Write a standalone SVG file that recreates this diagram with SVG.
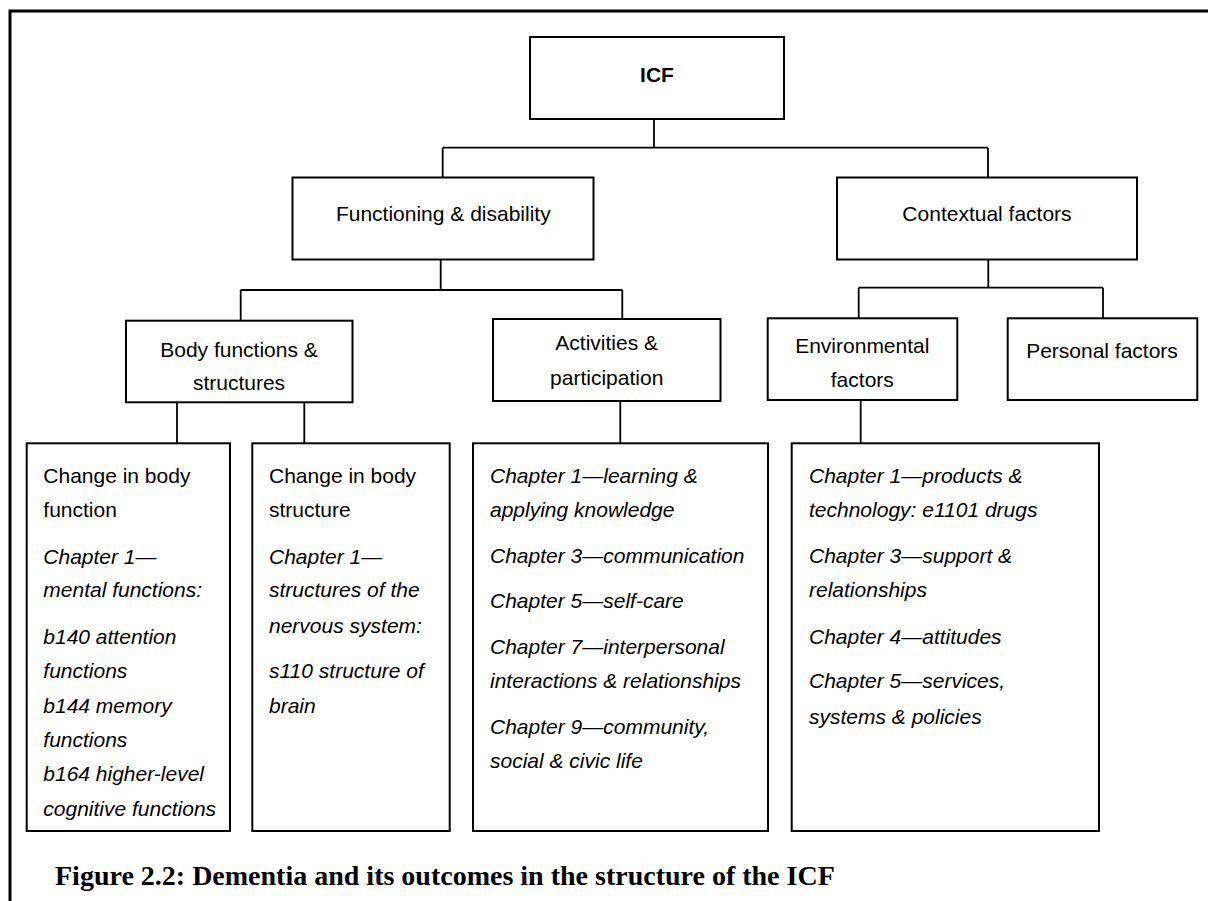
<svg xmlns="http://www.w3.org/2000/svg" width="1208" height="901" viewBox="0 0 1208 901">
<style>
.box{fill:#fff;stroke:#000;stroke-width:2}
.con{fill:none;stroke:#000;stroke-width:1.8}
.frame{fill:none;stroke:#000;stroke-width:3}
text{font-family:"Liberation Sans",Arial,sans-serif;font-size:21px;fill:#000}
.c{text-anchor:middle}
.b{font-weight:bold}
.i{font-style:italic}
.cap{font-family:"Liberation Serif","Times New Roman",serif;font-size:28px;font-weight:bold}
</style>
<rect x="0" y="0" width="1208" height="901" fill="#fff"/>
<path class="frame" d="M10,905 V11 H1212"/>

<g id="connectors">
<path class="con" d="M654,119 V147.7 M442.7,147.7 H988 M442.7,147.7 V177.5 M988,147.7 V177.5"/>
<path class="con" d="M440.7,259.3 V290 M240.7,290 H622.3 M240.7,290 V320.7 M622.3,290 V319"/>
<path class="con" d="M988.3,259.3 V287.7 M858.7,287.7 H1103 M858.7,287.7 V318.3 M1103,287.7 V318.3"/>
<path class="con" d="M177,402.3 V443.3 M304.3,402.3 V443.3 M620.3,401 V443.3 M860.7,400 V443.3"/>
</g>

<g id="icf">
<rect class="box" x="530" y="37" width="254" height="82"/>
<text class="c b" x="657" y="82">ICF</text>
</g>

<g id="functioning">
<rect class="box" x="292.5" y="177.5" width="301" height="82"/>
<text class="c" x="443.3" y="221">Functioning &amp; disability</text>
</g>

<g id="contextual">
<rect class="box" x="837" y="177.5" width="300" height="82"/>
<text class="c" x="987" y="221">Contextual factors</text>
</g>

<g id="body">
<rect class="box" x="126" y="320.7" width="226.5" height="81.6"/>
<text class="c" x="239" y="356.7">Body functions &amp;</text>
<text class="c" x="239" y="390">structures</text>
</g>

<g id="activities">
<rect class="box" x="493" y="319" width="227.5" height="82"/>
<text class="c" x="606.7" y="350">Activities &amp;</text>
<text class="c" x="606.7" y="385">participation</text>
</g>

<g id="environmental">
<rect class="box" x="767.7" y="318.3" width="189.6" height="81.7"/>
<text class="c" x="862.3" y="352.7">Environmental</text>
<text class="c" x="862.3" y="387.3">factors</text>
</g>

<g id="personal">
<rect class="box" x="1007.7" y="318.3" width="189.6" height="81.7"/>
<text class="c" x="1102" y="357.7">Personal factors</text>
</g>

<g id="body-function">
<rect class="box" x="26.7" y="443.3" width="203.3" height="387.7"/>
<text x="43.3" y="482.7">Change in body</text>
<text x="43.3" y="517.3">function</text>
<text class="i" x="43.3" y="563.7">Chapter 1—</text>
<text class="i" x="43.3" y="597">mental functions:</text>
<text class="i" x="43.3" y="643.7">b140 attention</text>
<text class="i" x="43.3" y="677.7">functions</text>
<text class="i" x="43.3" y="712.7">b144 memory</text>
<text class="i" x="43.3" y="746.7">functions</text>
<text class="i" x="43.3" y="781">b164 higher-level</text>
<text class="i" x="43.3" y="816">cognitive functions</text>
</g>

<g id="body-structure">
<rect class="box" x="252.3" y="443.3" width="197.4" height="387.7"/>
<text x="269" y="482.7">Change in body</text>
<text x="269" y="517.3">structure</text>
<text class="i" x="269" y="563.7">Chapter 1—</text>
<text class="i" x="269" y="597">structures of the</text>
<text class="i" x="269" y="632.7">nervous system:</text>
<text class="i" x="269" y="677.7">s110 structure of</text>
<text class="i" x="269" y="712.7">brain</text>
</g>

<g id="activities-chapters">
<rect class="box" x="473" y="443.3" width="295" height="387.7"/>
<text class="i" x="490" y="482.7">Chapter 1—learning &amp;</text>
<text class="i" x="490" y="517.3">applying knowledge</text>
<text class="i" x="490" y="562.7">Chapter 3—communication</text>
<text class="i" x="490" y="608.3">Chapter 5—self-care</text>
<text class="i" x="490" y="653.7">Chapter 7—interpersonal</text>
<text class="i" x="490" y="688.3">interactions &amp; relationships</text>
<text class="i" x="490" y="733.7">Chapter 9—community,</text>
<text class="i" x="490" y="768.3">social &amp; civic life</text>
</g>

<g id="environmental-chapters">
<rect class="box" x="791.7" y="443.3" width="307.3" height="387.7"/>
<text class="i" x="809" y="482.7">Chapter 1—products &amp;</text>
<text class="i" x="809" y="517.3">technology: e1101 drugs</text>
<text class="i" x="809" y="563.3">Chapter 3—support &amp;</text>
<text class="i" x="809" y="596.7">relationships</text>
<text class="i" x="809" y="643.7">Chapter 4—attitudes</text>
<text class="i" x="809" y="688.3">Chapter 5—services,</text>
<text class="i" x="809" y="723.7">systems &amp; policies</text>
</g>

<text class="cap" x="55" y="885">Figure 2.2: Dementia and its outcomes in the structure of the ICF</text>
</svg>
